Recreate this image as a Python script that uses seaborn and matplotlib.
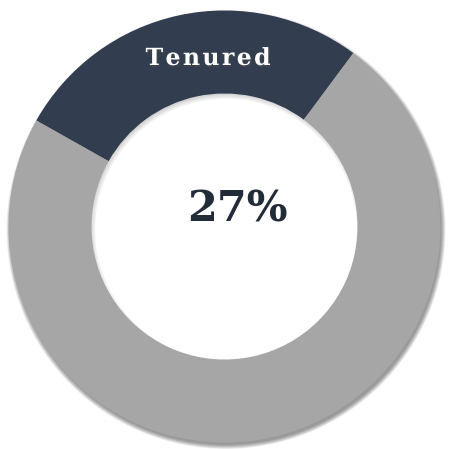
import numpy as np
import seaborn as sns
import matplotlib.pyplot as plt
import matplotlib.patheffects as pe
from matplotlib.patches import Wedge

labels = ['Tenured', 'Other']
shares = [27, 73]
colors = ['#333d50', '#a6a6a6']
center_label = '27%'

sns.set_theme(style='white')

fig = plt.figure(figsize=(4.49, 4.49), dpi=100)
ax = fig.add_axes([0, 0, 1, 1])
ax.set_xlim(0, 449)
ax.set_ylim(0, 449)
ax.set_aspect('equal')
ax.axis('off')

cx, cy = 224.5, 222.5
r_out, width = 216, 83

# soft drop shadow under the ring
for i in range(8):
    ax.add_patch(Wedge((cx + 1.5, cy - 3), r_out + 3.5 - i * 0.6, 0, 360,
                       width=width - 7 + i * 1.2, facecolor='black',
                       edgecolor='none', alpha=0.06, zorder=1))

ax.pie(shares, colors=colors, startangle=53.4, counterclock=True,
       radius=r_out, center=(cx, cy),
       wedgeprops=dict(width=width, edgecolor='none', zorder=2),
       frame=True)
ax.set_xlim(0, 449)
ax.set_ylim(0, 449)
ax.axis('off')

# letter spaced label on the dark segment
spaced = '\u200a'.join(labels[0])
ax.text(208, 449 - 58, spaced, color='white', fontsize=17, fontweight='bold',
        family='DejaVu Serif', ha='center', va='center', zorder=5,
        path_effects=[pe.withSimplePatchShadow(offset=(1, -1.5), alpha=0.45)])

ax.text(237, 449 - 209, center_label, color='#222b38', fontsize=31,
        fontweight='bold', family='DejaVu Serif', ha='center', va='center',
        zorder=5)

fig.savefig('out.png', dpi=100)
